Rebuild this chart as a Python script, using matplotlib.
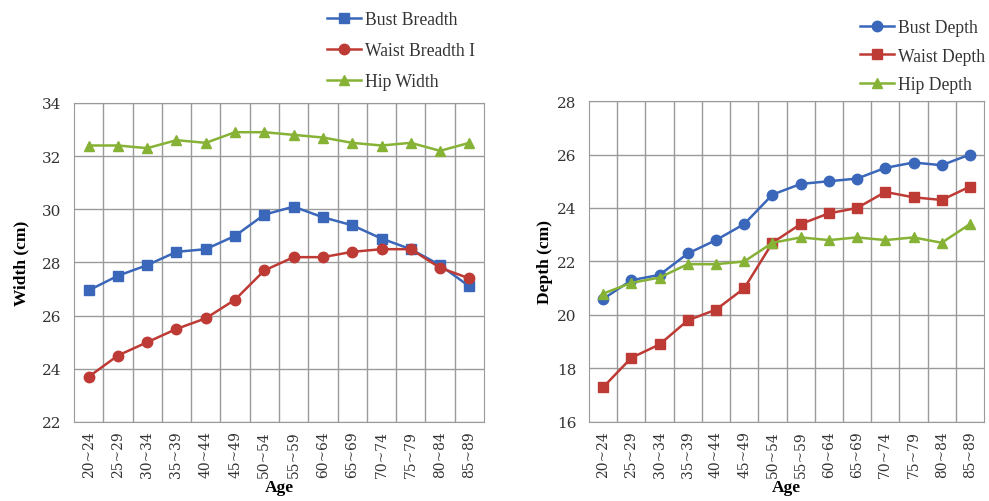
import matplotlib.pyplot as plt
import numpy as np

plt.rcParams['font.family'] = ['Liberation Serif', 'DejaVu Serif']

ages = ['20~24', '25~29', '30~34', '35~39', '40~44', '45~49', '50~54',
        '55~59', '60~64', '65~69', '70~74', '75~79', '80~84', '85~89']

# width measurements (cm)
bust_breadth = [26.95, 27.5, 27.9, 28.4, 28.5, 29.0, 29.8, 30.1, 29.7, 29.4, 28.9, 28.5, 27.9, 27.1]
waist_breadth = [23.7, 24.5, 25.0, 25.5, 25.9, 26.6, 27.7, 28.2, 28.2, 28.4, 28.5, 28.5, 27.8, 27.4]
hip_width = [32.4, 32.4, 32.3, 32.6, 32.5, 32.9, 32.9, 32.8, 32.7, 32.5, 32.4, 32.5, 32.2, 32.5]

# depth measurements (cm)
bust_depth = [20.6, 21.3, 21.5, 22.3, 22.8, 23.4, 24.5, 24.9, 25.0, 25.1, 25.5, 25.7, 25.6, 26.0]
waist_depth = [17.3, 18.4, 18.9, 19.8, 20.2, 21.0, 22.7, 23.4, 23.8, 24.0, 24.6, 24.4, 24.3, 24.8]
hip_depth = [20.8, 21.2, 21.4, 21.9, 21.9, 22.0, 22.7, 22.9, 22.8, 22.9, 22.8, 22.9, 22.7, 23.4]

BLUE = '#3A67BA'
RED = '#BE3A35'
GREEN = '#86B235'
GRID = '#9a9a9a'
TICKFONT = 'DejaVu Serif'

fig = plt.figure(figsize=(9.89, 5.02), dpi=100)
ax1 = fig.add_axes([0.0748, 0.1574, 0.4146, 0.6355])
ax2 = fig.add_axes([0.5956, 0.1574, 0.3994, 0.6394])

x = np.arange(len(ages))


def style(ax, ylim, ylabel, ylabelpad):
    ax.set_xlim(-0.5, len(ages) - 0.5)
    ax.set_ylim(*ylim)
    ax.set_yticks(np.arange(ylim[0], ylim[1] + 1, 2))
    ax.set_xticks(x)
    ax.set_xticklabels(ages, rotation=90, fontsize=10, family=TICKFONT, color='#333333')
    for t in ax.get_yticklabels():
        t.set_family(TICKFONT)
        t.set_color('#333333')
    ax.set_xticks(np.arange(0.5, len(ages) - 0.5, 1), minor=True)
    ax.tick_params(axis='x', which='both', length=0, pad=6)
    ax.tick_params(axis='y', length=0, labelsize=11, pad=9)
    ax.grid(True, which='minor', axis='x', color=GRID, lw=1)
    ax.grid(True, which='major', axis='y', color=GRID, lw=1)
    ax.set_axisbelow(True)
    for s in ax.spines.values():
        s.set_color(GRID)
    ax.set_xlabel('Age', fontsize=12.5, fontweight='bold', labelpad=1)
    ax.set_ylabel(ylabel, fontsize=12.5, fontweight='bold', labelpad=ylabelpad)


kw = dict(lw=1.8, markersize=7.5)
ax1.plot(x, bust_breadth, marker='s', color=BLUE, label='Bust Breadth', **kw)
ax1.plot(x, waist_breadth, marker='o', color=RED, label='Waist Breadth I', **kw)
ax1.plot(x, hip_width, marker='^', color=GREEN, label='Hip Width', **kw)
style(ax1, (22, 34), 'Width (cm)', 9)

ax2.plot(x, bust_depth, marker='o', color=BLUE, label='Bust Depth', **kw)
ax2.plot(x, waist_depth, marker='s', color=RED, label='Waist Depth', **kw)
ax2.plot(x, hip_depth, marker='^', color=GREEN, label='Hip Depth', **kw)
style(ax2, (16, 28), 'Depth (cm)', 3)

leg_kw = dict(frameon=False, fontsize=12.7, handlelength=1.95, handletextpad=0.2,
              borderpad=0, borderaxespad=0, labelcolor='#333333')
ax1.legend(loc='upper left', bbox_to_anchor=(327 / 989, 1 - 12 / 502),
           bbox_transform=fig.transFigure, labelspacing=0.8, **leg_kw)
ax2.legend(loc='upper left', bbox_to_anchor=(860 / 989, 1 - 20 / 502),
           bbox_transform=fig.transFigure, labelspacing=0.66, **leg_kw)

fig.savefig('out.png', dpi=100)
